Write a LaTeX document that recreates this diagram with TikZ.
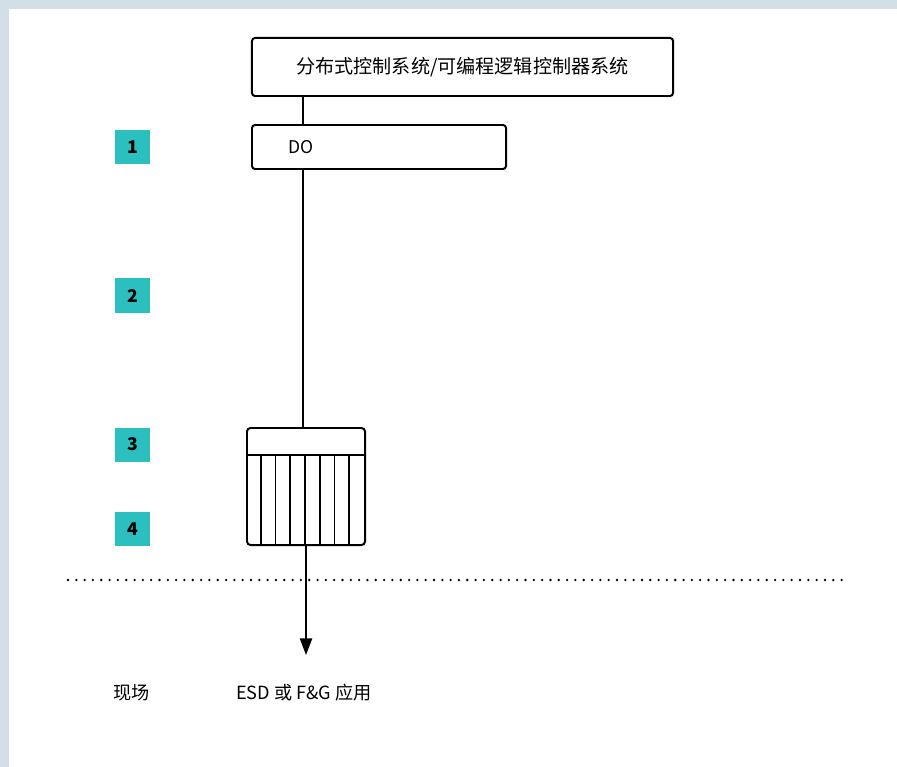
\documentclass[tikz,border=0pt]{standalone}
\usepackage{fontspec}
\setmainfont{Noto Sans CJK SC}
\usepackage{xcolor}
\usepackage{tikz}
\usetikzlibrary{arrows.meta, positioning}

\definecolor{framebg}{HTML}{D3DFE6}
\definecolor{tagteal}{HTML}{2BBFBF}

\begin{document}
\begin{tikzpicture}[x=0.03cm, y=-0.03cm,
    sysbox/.style={rectangle, draw=black, line width=1.7pt, rounded corners=2.5pt, minimum width=12.63cm, minimum height=1.74cm, font=\fontsize{16.3}{19}\selectfont},
    iobox/.style={rectangle, draw=black, line width=1.7pt, rounded corners=2.5pt, minimum width=7.62cm, minimum height=1.32cm, text width=5.46cm, align=left, inner xsep=1.08cm, font=\fontsize{15}{18}\selectfont},
    modbox/.style={rectangle, draw=black, line width=1.7pt, rounded corners=3pt, minimum width=3.54cm, minimum height=3.51cm},
    tag/.style={rectangle, fill=tagteal, minimum width=1.05cm, minimum height=1.02cm, inner sep=0pt, font=\fontsize{15}{18}\selectfont\bfseries},
    label/.style={font=\fontsize{15.5}{18}\selectfont},
    wire/.style={line width=1.4pt, draw=black},
    arrow/.style={-{Triangle[length=0.5cm, width=0.37cm]}, line width=1.4pt}]

    % page and frame
    \useasboundingbox (0,0) rectangle (897,767);
    \fill[framebg] (0,0) rectangle (897,767);
    \fill[white] (9,9) rectangle (897,767);

    \node[sysbox] (dcs) at (462.5,67) {分布式控制系统/可编程逻辑控制器系统};
    \node[iobox] (do) at (379,147) {DO};
    \node[modbox] (mod) at (306,486.5) {};

    % module terminals
    \draw[line width=1.6pt] ([yshift=-0.84cm]mod.north west) -- ([yshift=-0.84cm]mod.north east);
    \foreach \i in {1,...,7}
        \draw[line width=1.6pt] ([xshift=\i*0.4425cm, yshift=-0.84cm]mod.north west) -- ([xshift=\i*0.4425cm]mod.south west);

    \node[tag] (t1) at (132.5,147) {1};
    \node[tag] (t2) at (132.5,295.5) {2};
    \node[tag] (t3) at (132.5,444.5) {3};
    \node[tag] (t4) at (132.5,529) {4};

    \coordinate (tip) at (307,655);
    \node[label] (field) at (131.5,693) {现场};
    \node[label] (app) at (304,693) {ESD 或 F\&G 应用};

    \coordinate (dl) at (68,580);
    \coordinate (dr) at (848,580);
    \draw[line width=2.2pt, line cap=round, dash pattern=on 0pt off 7.1pt] (dl) -- (dr);

    \draw[wire] ([xshift=1.56cm]dcs.south west) -- ([xshift=1.56cm]do.north west);
    \draw[wire] ([xshift=1.56cm]do.south west) -- ([xshift=1.56cm]do.south west |- mod.north);
    \draw[wire, arrow] (mod.south) -- (mod.south |- tip);
\end{tikzpicture}
\end{document}
